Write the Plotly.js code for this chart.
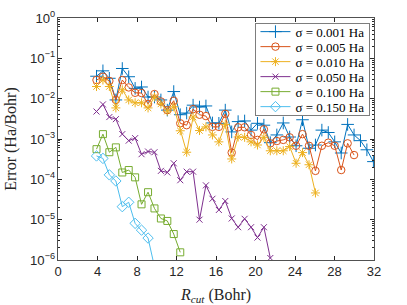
<!DOCTYPE html>
<html><head><meta charset="utf-8">
<script src="https://cdn.plot.ly/plotly-3.0.1.min.js"></script>
<style>html,body{margin:0;padding:0;background:#fff}#chart{width:407px;height:305px}</style>
</head><body><div id="chart"></div>
<script>
// R_cut values (Bohr)
const rcut = [3.90,4.55,5.20,5.86,6.51,7.16,7.81,8.46,9.12,9.77,10.42,11.07,11.72,12.38,13.03,13.68,14.33,14.98,15.64,16.29,16.94,17.59,18.24,18.90,19.55,20.20,20.85,21.50,22.16,22.81,23.46,24.11,24.76,25.42,26.07,26.72,27.37,28.02,28.68,29.33,29.98,30.63,31.28,31.94];

// Errors (Ha/Bohr) for each smearing sigma
const err_0001 = [3.6e-2,4.9e-2,3.2e-2,9.3e-3,5.6e-2,3.5e-2,1.8e-2,1.95e-2,1.1e-2,1.1e-2,9.3e-3,5.2e-3,1.5e-2,4.0e-3,4.4e-3,6.9e-3,6.2e-3,6.6e-3,2.5e-3,2.45e-3,5.2e-3,1.5e-3,2.7e-3,2.8e-3,1.66e-3,2.45e-3,2.2e-3,8.1e-4,1.26e-3,2.5e-3,1.12e-3,6.8e-4,3.0e-3,5.9e-4,7.1e-4,1.66e-3,1.45e-3,8.5e-4,4.5e-4,2.3e-3,1.26e-3,9.1e-4,5.4e-4,2.75e-4];
const err_0005 = [2.9e-2,3.5e-2,2.75e-2,9.3e-3,2.9e-2,1.9e-2,1.4e-2,1.38e-2,7.4e-3,1.3e-2,8.5e-3,5.2e-3,8.9e-3,2.45e-3,2.2e-3,5.5e-3,4.0e-3,3.7e-3,2.0e-3,2.0e-3,4.2e-3,4.6e-4,1.95e-3,1.95e-3,1.26e-3,9.5e-4,1.74e-3,7.8e-4,8.9e-4,9.5e-4,1.1e-3,6.8e-4,1.32e-3,6.8e-4,1.62e-4,6.8e-4,8.1e-4,6.8e-4,1.7e-4,7.8e-4,4.0e-4];
const err_0010 = [2.0e-2,2.9e-2,2.0e-2,5.9e-3,1.66e-2,9.3e-3,7.9e-3,7.9e-3,5.9e-3,1.1e-2,7.4e-3,4.9e-3,6.3e-3,1.6e-3,4.7e-4,3.5e-3,1.62e-3,2.0e-3,1.26e-3,8.5e-4,2.3e-3,3.2e-4,1.12e-3,1.1e-3,8.5e-4,7.1e-4,1.1e-3,5.1e-4,5.1e-4,5.1e-4,6.5e-4,2.5e-4,4.6e-4,2.3e-4,4.6e-5];
const err_0050 = [4.8e-3,7.2e-3,3.5e-3,3.1e-3,1.32e-3,9.1e-4,1.05e-3,4.2e-4,4.9e-4,4.7e-4,1.62e-4,1.48e-4,2.5e-4,9.5e-5,1.55e-4,1.55e-4,1.0e-5,7.1e-5,3.3e-5,1.74e-5,2.9e-5,1.07e-5,6.5e-6,1.05e-5,6.5e-6,3.6e-6,6.5e-6,1.12e-6];
const err_0100 = [5.6e-4,1.32e-3,4.7e-4,6.2e-4,1.48e-4,1.7e-4,1.12e-4,2.4e-5,4.8e-5,1.9e-5,1.07e-5,9.3e-6,4.4e-6,1.55e-6];
const err_0150 = [3.8e-4,3.3e-4,1.29e-4,9.1e-5,2.1e-5,2.7e-5,8.1e-6,5.5e-6,3.5e-6,6.8e-7];

const labels = ['σ = 0.001 Ha','σ = 0.005 Ha','σ = 0.010 Ha','σ = 0.050 Ha','σ = 0.100 Ha','σ = 0.150 Ha'];
const series = [err_0001, err_0005, err_0010, err_0050, err_0100, err_0150];
const colors = ['#0072BD','#D95319','#EDB120','#7E2F8E','#77AC30','#4DBEEE'];
const symbols = ['cross-thin-open','circle-open','asterisk-open','x-thin-open','square-open','diamond-open'];
const sizes = [9,7.5,7.5,6,7,8];

const traces = series.map((ys,i)=>({
  x: rcut.slice(0, ys.length), y: ys, name: labels[i],
  type:'scatter', mode:'lines+markers',
  line:{color:colors[i], width:1},
  marker:{symbol:symbols[i], size:sizes[i], color:colors[i], line:{color:colors[i], width:1}}
}));

const axcol = '#262626';
const layout = {
  width:407, height:305,
  margin:{l:58, r:33, t:18, b:45},
  paper_bgcolor:'#fff', plot_bgcolor:'#fff',
  showlegend:true,
  xaxis:{
    range:[0,32], tick0:0, dtick:4, ticks:'inside', ticklen:4, tickcolor:axcol,
    showline:true, linecolor:axcol, linewidth:0.8, mirror:'ticks',
    showgrid:false, zeroline:false,
    tickfont:{family:'Liberation Sans, Arial', size:13, color:axcol},
    title:{text:'<i>R</i><sub><i>cut</i></sub> (Bohr)', font:{family:'Liberation Serif', size:16, color:axcol}}
  },
  yaxis:{
    type:'log', range:[-6,0], dtick:1, ticks:'inside', ticklen:4, tickcolor:axcol,
    showline:true, linecolor:axcol, linewidth:0.8, mirror:'ticks',
    showgrid:false, zeroline:false,
    exponentformat:'power', labelalias:{1:'10<sup>0</sup>'},
    tickfont:{family:'Liberation Sans, Arial', size:10.5, color:axcol},
    minor:{ticks:'inside', ticklen:2, dtick:'D1', tickcolor:axcol, showgrid:false},
    title:{text:'Error (Ha/Bohr)', font:{family:'Liberation Serif', size:16, color:axcol}}
  },
  legend:{
    x:0.623, y:0.98, xanchor:'left', yanchor:'top',
    bgcolor:'#fff', bordercolor:axcol, borderwidth:0.6,
    font:{family:'Liberation Serif', size:13, color:'#000'},
    itemwidth:30
  }
};
Plotly.newPlot('chart', traces, layout, {staticPlot:true, displayModeBar:false}).then(gd => {
  // tighten legend rows to match the compact reference legend
  const leg = gd.querySelector('.legend');
  if (!leg) return;
  const items = leg.querySelectorAll('.traces');
  const step = 15, first = 8.8;
  items.forEach((it, i) => {
    const m = /translate\(\s*([-\d.e]+)[ ,]+([-\d.e]+)\s*\)/.exec(it.getAttribute('transform') || '');
    const tx = m ? +m[1] : 0;
    it.setAttribute('transform', 'translate(' + tx + ',' + (first + i * step) + ')');
  });
  const bg = leg.querySelector('rect.bg');
  if (bg) bg.setAttribute('height', first + (items.length - 1) * step + 8.6);
});
</script></body></html>
